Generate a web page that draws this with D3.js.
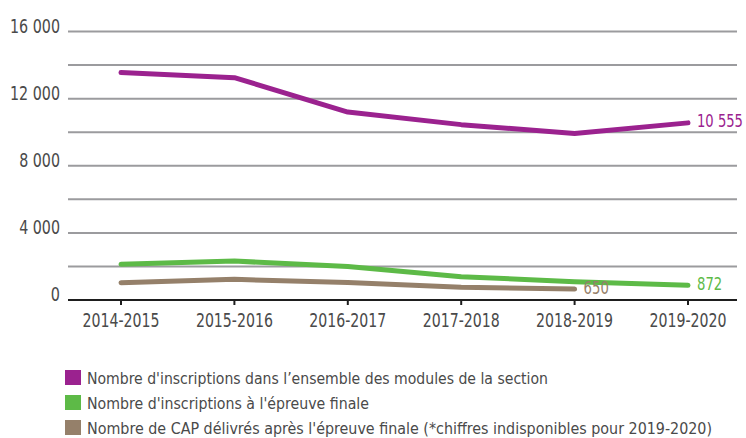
<!DOCTYPE html>
<html>
<head>
<meta charset="utf-8">
<script src="https://cdn.jsdelivr.net/npm/d3@7"></script>
<style>
  body {margin: 0; background: #fff;}
  svg text {font-family: "Liberation Sans Narrow", "Arial Narrow", "DejaVu Sans Condensed", sans-serif;}
</style>
</head>
<body>
<svg id="chart" width="746" height="438"></svg>
<script>
"use strict";
const years = ["2014-2015", "2015-2016", "2016-2017", "2017-2018", "2018-2019", "2019-2020"];
const inscriptionsModules = [13550, 13250, 11200, 10450, 9920, 10555];
const inscriptionsEpreuve = [2130, 2320, 1990, 1390, 1090, 872];
const capDelivres = [1030, 1230, 1040, 760, 650];
const gridTicks = [0, 2000, 4000, 6000, 8000, 10000, 12000, 14000, 16000];
const labelTicks = [0, 4000, 8000, 12000, 16000];
const legendLabels = [
  "Nombre d'inscriptions dans l\u2019ensemble des modules de la section",
  "Nombre d'inscriptions \u00e0 l'\u00e9preuve finale",
  "Nombre de CAP d\u00e9livr\u00e9s apr\u00e8s l'\u00e9preuve finale (*chiffres indisponibles pour 2019-2020)"
];
const legendWidths = [461, 282, 625];
const colors = ["#9b228f", "#5dba47", "#95806a"];

drawChart();

function drawChart(){
  const svg = d3.select("#chart");
  const x = d3.scalePoint().domain(years).range([121, 688]);
  const y = d3.scaleLinear().domain([0, 16000]).range([300, 31.5]);
  const fmt = v => d3.format(",")(v).replace(/,/g, " ");
  // squeeze numbers to the condensed width of the original font
  const numWidth = (s, dw, sw) => s.replace(/ /g, "").length * dw + (s.split(" ").length - 1) * sw;

  // horizontal grid
  svg.append("g").selectAll("line").data(gridTicks.filter(d => d > 0)).join("line")
    .attr("x1", 68).attr("x2", 737)
    .attr("y1", d => y(d)).attr("y2", d => y(d))
    .attr("stroke", "#9b9b9e").attr("stroke-width", 2);

  // y labels
  svg.append("g").selectAll("text").data(labelTicks).join("text")
    .attr("x", 60).attr("y", d => y(d) + 1)
    .attr("text-anchor", "end").attr("font-size", 19.5).attr("fill", "#4a4a4a")
    .attr("textLength", d => numWidth(fmt(d), 9.2, 4)).attr("lengthAdjust", "spacingAndGlyphs")
    .text(d => fmt(d));

  // x axis
  const xAxis = svg.append("g").attr("transform", "translate(0,300)");
  xAxis.append("line").attr("x1", 68).attr("x2", 737).attr("stroke", "#1e1e1e").attr("stroke-width", 2);
  xAxis.selectAll("line.tick").data(years).join("line").attr("class", "tick")
    .attr("x1", d => x(d)).attr("x2", d => x(d)).attr("y1", 0).attr("y2", 5)
    .attr("stroke", "#1e1e1e").attr("stroke-width", 2);
  xAxis.selectAll("text").data(years).join("text")
    .attr("x", d => x(d)).attr("y", 27)
    .attr("text-anchor", "middle").attr("font-size", 19.5).attr("fill", "#4a4a4a")
    .attr("textLength", 77).attr("lengthAdjust", "spacingAndGlyphs")
    .text(d => d);

  // lines
  const series = [inscriptionsModules, inscriptionsEpreuve, capDelivres];
  const line = d3.line().x((d, i) => x(years[i])).y(d => y(d));
  series.slice().reverse().forEach((s, k) => {
    const i = series.length - 1 - k;
    svg.append("path").datum(s)
      .attr("d", line).attr("fill", "none")
      .attr("stroke", colors[i]).attr("stroke-width", 5)
      .attr("stroke-linecap", "round").attr("stroke-linejoin", "round");
  });

  // end labels, narrowed with a horizontal scale so their box stays true
  series.forEach((s, i) => {
    const last = s.length - 1;
    const label = fmt(s[last]);
    const w = numWidth(label, 8.4, 4);
    const t = svg.append("text")
      .attr("font-size", 17.5).attr("fill", colors[i])
      .text(label);
    const k = Math.min(1, w / t.node().getComputedTextLength());
    t.attr("transform", `translate(${x(years[last]) + 9},${y(s[last]) + 4.5}) scale(${k},1)`);
  });

  // legend
  const legend = svg.append("g").selectAll("g").data(legendLabels).join("g")
    .attr("transform", (d, i) => `translate(65,${370 + i * 25})`);
  legend.append("rect").attr("width", 16).attr("height", 15).attr("fill", (d, i) => colors[i]);
  legend.append("text").attr("x", 22).attr("y", 14)
    .attr("font-size", 16.5).attr("fill", "#4a4a4a")
    .attr("textLength", (d, i) => legendWidths[i]).attr("lengthAdjust", "spacingAndGlyphs")
    .text(d => d);
}
</script>
</body>
</html>
